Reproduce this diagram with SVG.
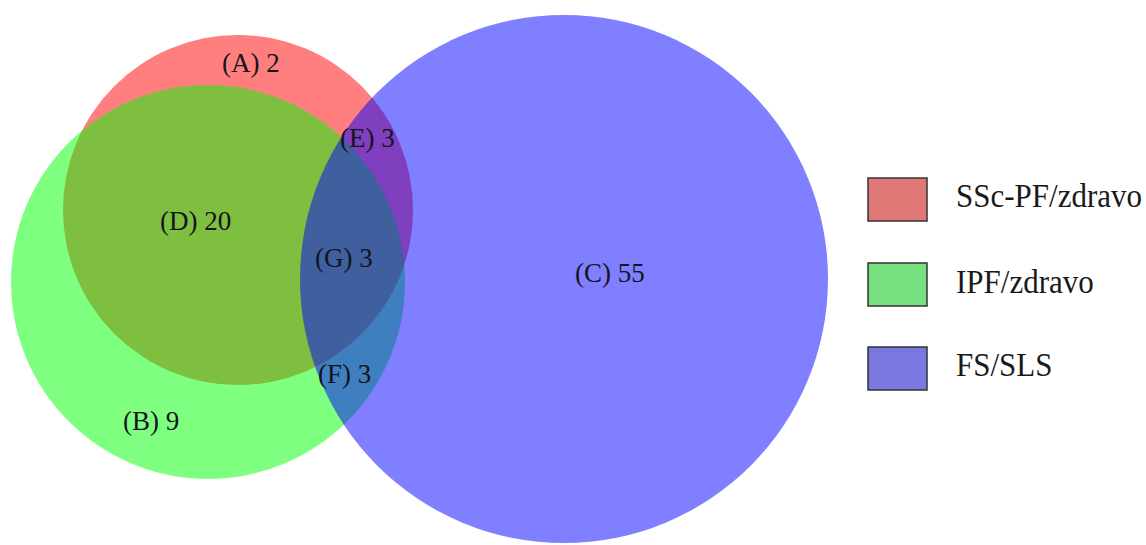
<svg xmlns="http://www.w3.org/2000/svg" width="1146" height="545" viewBox="0 0 1146 545">
  <style>
    .set { fill-opacity: 0.5; }
    .lbl { font-family: "Liberation Serif", "Times New Roman", serif; font-size: 27px; fill: #141420; }
    .key { font-family: "Liberation Serif", "Times New Roman", serif; font-size: 31px; fill: #1a1a1a; }
    .swatch { stroke: #333333; stroke-width: 1.5; }
  </style>
  <rect width="1146" height="545" fill="#ffffff"/>

  <!-- Venn sets, drawn in order so overlaps blend -->
  <g id="set-ssc-pf">
    <circle class="set" cx="238" cy="210" r="175" fill="#ff0000"/>
  </g>
  <g id="set-ipf">
    <circle class="set" cx="208" cy="282" r="197" fill="#00ff00"/>
  </g>
  <g id="set-fs-sls">
    <circle class="set" cx="564" cy="279" r="264" fill="#0000ff"/>
  </g>

  <!-- Region counts -->
  <g id="region-labels">
    <text class="lbl" x="222" y="72">(A) 2</text>
    <text class="lbl" x="340" y="147">(E) 3</text>
    <text class="lbl" x="160" y="230">(D) 20</text>
    <text class="lbl" x="315" y="267">(G) 3</text>
    <text class="lbl" x="318" y="383">(F) 3</text>
    <text class="lbl" x="123" y="430">(B) 9</text>
    <text class="lbl" x="575" y="282">(C) 55</text>
  </g>

  <g id="connectors"></g>

  <!-- Legend -->
  <g id="legend">
    <g id="legend-ssc-pf">
      <rect class="swatch" x="868" y="178" width="59" height="43" fill="#e07878"/>
      <text class="key" transform="translate(956 207) scale(1 1.1)">SSc-PF/zdravo</text>
    </g>
    <g id="legend-ipf">
      <rect class="swatch" x="868" y="263" width="59" height="43" fill="#78e080"/>
      <text class="key" transform="translate(956 293) scale(1 1.1)">IPF/zdravo</text>
    </g>
    <g id="legend-fs-sls">
      <rect class="swatch" x="868" y="347" width="59" height="43" fill="#7878e0"/>
      <text class="key" transform="translate(956 376) scale(1 1.1)">FS/SLS</text>
    </g>
  </g>
</svg>
